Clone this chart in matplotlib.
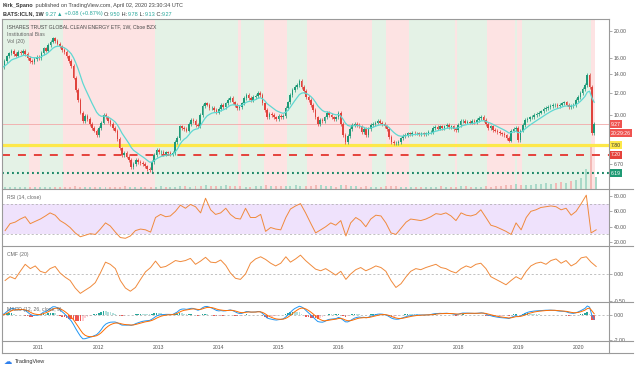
import numpy as np
import pandas as pd
import matplotlib
matplotlib.use("Agg")
import matplotlib.pyplot as plt
import matplotlib.dates as mdates
from matplotlib.lines import Line2D
from matplotlib.ticker import NullLocator

# ---------------- data ----------------
price_start = "2010-05-28"          # bi-weekly samples of the weekly chart
closes = [
    14.8, 15.6, 16.2, 16.6, 17.0, 16.5, 16.3, 16.8, 16.6, 16.9,
    16.5, 16.0, 15.6, 15.5, 15.9, 16.1, 16.0, 16.7, 17.3, 17.0,
    17.8, 18.3, 18.8, 18.4, 18.0, 17.6, 17.1, 16.8, 16.2, 15.6,
    15.0, 13.6, 12.3, 11.3, 10.2, 9.5, 9.9, 9.7, 9.3, 9.0,
    8.8, 8.5, 9.0, 9.4, 10.0, 9.8, 9.5, 9.3, 9.0, 8.8,
    8.2, 7.6, 7.2, 7.3, 7.1, 6.9, 6.5, 6.7, 6.9, 6.8,
    6.75, 6.7, 6.55, 6.4, 6.35, 6.8, 7.2, 7.5, 7.35, 7.4,
    7.25, 7.35, 7.3, 7.25, 7.3, 8.0, 8.3, 9.1, 9.0, 8.9,
    8.8, 9.3, 9.6, 9.5, 9.2, 9.1, 10.0, 10.8, 11.0, 10.9,
    10.6, 10.6, 10.4, 10.2, 10.5, 10.9, 10.7, 11.0, 11.3, 11.5,
    11.1, 10.85, 10.6, 10.7, 11.0, 11.5, 11.8, 11.5, 11.3, 11.6,
    11.7, 12.0, 11.8, 11.0, 10.4, 9.8, 10.1, 10.0, 9.8, 9.7,
    9.9, 9.8, 9.9, 10.6, 11.1, 11.8, 12.3, 12.6, 12.8, 13.2,
    12.6, 12.2, 11.6, 11.3, 10.85, 10.4, 9.8, 9.3, 9.6, 9.5,
    9.8, 10.2, 10.0, 9.8, 9.7, 9.8, 10.2, 9.3, 8.5, 8.0,
    8.4, 8.9, 9.2, 9.3, 9.2, 9.1, 8.7, 8.9, 8.5, 8.9,
    9.2, 9.3, 9.4, 9.5, 9.4, 9.3, 9.1, 8.9, 8.35, 8.0,
    7.95, 7.95, 8.0, 8.25, 8.4, 8.5, 8.6, 8.55, 8.65, 8.6,
    8.6, 8.55, 8.6, 8.55, 8.6, 8.7, 8.7, 9.0, 9.05, 8.95,
    9.1, 9.0, 9.1, 9.2, 9.05, 9.1, 8.9, 8.85, 9.2, 9.5,
    9.55, 9.4, 9.45, 9.4, 9.5, 9.45, 9.6, 9.75, 9.85, 9.6,
    9.3, 9.0, 9.1, 8.85, 8.8, 8.7, 8.6, 8.55, 8.45, 8.3,
    8.1, 8.8, 8.9, 9.0, 8.15, 8.8, 9.2, 9.6, 9.7, 9.8,
    9.85, 10.0, 10.1, 10.2, 10.3, 10.5, 10.6, 10.7, 10.8, 10.85,
    10.9, 10.8, 10.9, 11.0, 11.1, 10.9, 10.7, 10.8, 10.85, 11.3,
    11.6, 12.0, 12.4, 12.8, 13.9, 12.6, 8.6, 9.27,
]

indicator_start = "2010-06-01"       # monthly samples
rsi_values = [
    35, 44, 46, 50, 53, 44, 47,
    50, 54, 58, 55, 48, 44, 39, 32, 27, 29, 31, 30,
    37, 45, 41, 33, 26, 25, 28, 35, 37, 36, 33, 52,
    56, 53, 54, 60, 68, 64, 69, 66, 58, 77, 62, 56,
    58, 64, 56, 51, 50, 64, 52, 52, 56, 34, 39, 37,
    36, 52, 63, 67, 70, 58, 45, 32, 36, 40, 45, 42,
    48, 28, 45, 52, 48, 40, 50, 55, 54, 45, 32, 30,
    38, 46, 50, 49, 48, 50, 53, 57, 56, 58, 54, 48,
    58, 55, 54, 56, 62, 52, 42, 40, 37, 34, 30, 45,
    36, 52, 60, 62, 65, 66, 67, 66, 62, 64, 55, 60,
    70, 81, 32, 36,
]
cmf_values = [
    -0.12, -0.05, -0.09, 0.05, 0.18, 0.10, 0.15,
    0.05, 0.02, 0.10, 0.14, 0.02, -0.06, -0.12, -0.26, -0.36, -0.30, -0.24, -0.16,
    0.02, 0.22, 0.18, 0.10, -0.12, -0.26, -0.32, -0.25, -0.10, 0.04, 0.12, 0.24,
    0.12, 0.14, 0.19, 0.25, 0.23, 0.25, 0.29, 0.18, 0.24, 0.31, 0.22, 0.21,
    0.26, 0.16, 0.02, -0.08, -0.10, 0.00, 0.20, 0.28, 0.32, 0.27, 0.20, 0.15,
    0.20, 0.32, 0.22, 0.28, 0.35, 0.25, 0.17, 0.09, 0.06, 0.10, 0.04, -0.02,
    0.05, -0.10, 0.00, 0.08, 0.12, 0.06, 0.10, 0.15, 0.12, 0.05, -0.12, -0.25,
    -0.18, -0.05, 0.05, 0.10, 0.08, 0.12, 0.15, 0.18, 0.12, 0.10, 0.05, 0.02,
    0.10, 0.15, 0.12, 0.18, 0.20, 0.10, -0.05, -0.10, -0.15, -0.20, -0.12, -0.05,
    -0.10, 0.05, 0.15, 0.20, 0.22, 0.18, 0.25, 0.28, 0.20, 0.25, 0.15, 0.20,
    0.30, 0.32, 0.22, 0.14,
]
volume_m = [
    0.6, 0.5, 0.5, 0.6, 0.5, 0.6, 0.7,
    0.6, 0.6, 0.7, 0.6, 0.5, 0.6, 0.7, 0.9, 0.8, 0.7, 0.6, 0.6,
    0.7, 0.6, 0.6, 0.7, 0.8, 0.9, 0.8, 0.7, 0.7, 0.6, 0.8, 0.7,
    0.9, 0.8, 0.7, 0.8, 1.0, 0.9, 0.8, 0.9, 1.0, 1.2, 1.0, 0.9,
    1.0, 1.3, 1.1, 1.0, 0.9, 0.8, 0.8, 0.9, 1.1, 1.2, 1.0, 0.9,
    1.0, 1.1, 0.9, 1.2, 1.0, 0.9, 1.0, 1.3, 1.4, 1.1, 0.9, 0.8,
    1.2, 1.4, 1.0, 0.9, 0.8, 0.9, 0.8, 0.7, 0.8, 0.9, 1.1, 0.9,
    0.8, 0.7, 0.8, 0.7, 0.7, 0.8, 0.7, 0.8, 0.9, 0.8, 0.7, 0.8,
    0.9, 1.0, 0.8, 0.8, 0.7, 0.9, 0.8, 0.9, 1.0, 1.2, 1.3, 1.6,
    1.4, 1.2, 1.3, 1.5, 1.6, 1.8, 1.7, 1.9, 2.2, 2.0, 2.5, 3.0,
    3.5, 6.5, 14.0, 4.0,
]
year_labels = ["2011", "2012", "2013", "2014", "2015", "2016", "2017", "2018", "2019", "2020"]
price_ticks = [6.70, 10.00, 12.00, 14.00, 16.00, 20.00]
rsi_ticks = [20, 40, 60, 80]
cmf_ticks = [-0.50, 0.00]
macd_ticks = [-2.00, 0.00]
level_support = 7.80
level_dash = 7.20
level_low = 6.19
last_price = 9.27

# ---------------- figure ----------------
W, H = 640, 370
plt.rcParams['font.family'] = ['Liberation Sans', 'DejaVu Sans']
fig = plt.figure(figsize=(W / 100, H / 100), dpi=100)
fig.patch.set_facecolor("white")

def px_axes(x0, y0, x1, y1, **kw):
    return fig.add_axes([x0 / W, 1 - y1 / H, (x1 - x0) / W, (y1 - y0) / H], **kw)

X0, X1 = 2, 609
dates = pd.date_range(price_start, periods=len(closes), freq="14D")
mdates_ = pd.date_range(indicator_start, periods=len(rsi_values), freq="MS") + pd.Timedelta(days=14)
xd = mdates.date2num(dates)
xm = mdates.date2num(mdates_)
xlim = (mdates.date2num(pd.Timestamp("2010-05-27")), mdates.date2num(pd.Timestamp("2020-07-02")))

c = pd.Series(closes, dtype=float)
opens = c.shift(1).fillna(c.iloc[0]).values
cl = c.values
ema_line = c.ewm(span=10, adjust=False).mean().values
fast = c.ewm(span=4.5, adjust=False).mean().values
slow = c.ewm(span=9, adjust=False).mean().values

UP, DN = "#1e9a78", "#e0433d"
TXT = "#555555"
FS_T = 3.7

# background / volume axis
axv = px_axes(X0, 19, X1, 189)
axv.set_xlim(*xlim)
axv.set_ylim(0, 55)
axv.axis("off")
half = 7
for i in range(len(xd)):
    col = "#e4f2e6" if fast[i] >= slow[i] else "#fde3e3"
    axv.axvspan(xd[i] - half, xd[i] + half, color=col, lw=0, zorder=0)
vol_cols = ["#a9d9c8" if (i == 0 or rsi_values[i] >= rsi_values[i - 1]) else "#f3b9b6" for i in range(len(volume_m))]
axv.bar(xm, volume_m, width=12, color=vol_cols, zorder=1)

# main price axis
ax = px_axes(X0, 19, X1, 189)
ax.patch.set_alpha(0)
ax.set_yscale("log")
ax.set_xlim(*xlim)
ax.set_ylim(5.44, 22.04)
ax.axhline(last_price, color="#f3a9a9", lw=0.6, zorder=1)
ax.axhline(level_support, color="#fde84a", lw=2.3, zorder=2)
ax.axhline(level_dash, color="#e5423c", lw=1.4, dashes=(4.1, 4.1), zorder=2)
ax.axhline(level_low, color="#1f8a6a", lw=1.5, dashes=(0.9, 1.5), zorder=2)
colors = [UP if cl[i] >= opens[i] else DN for i in range(len(cl))]
lo = np.minimum(opens, cl) * 0.985
hi = np.maximum(opens, cl) * 1.015
ax.vlines(xd, lo, hi, colors=colors, lw=0.5, zorder=3)
ax.bar(xd, cl - opens, bottom=opens, width=10, color=colors, zorder=4, linewidth=0)
ax.plot(xd, ema_line, color="#5fd8d2", lw=0.9, zorder=5)
ax.yaxis.tick_right()
ax.yaxis.set_minor_locator(NullLocator())
ax.set_yticks(price_ticks)
ax.set_yticklabels(["%.2f" % v for v in price_ticks])
ax.set_xticks([])

# RSI
ar = px_axes(X0, 189, X1, 246)
ar.set_xlim(*xlim)
ar.set_ylim(15, 89)
ar.axhspan(30, 70, color="#efe2fc", lw=0)
ar.axhline(70, color="#a8a8a8", lw=0.5, dashes=(3, 3))
ar.axhline(30, color="#a8a8a8", lw=0.5, dashes=(3, 3))
ar.plot(xm, rsi_values, color="#f08a3c", lw=0.7)
ar.yaxis.tick_right()
ar.set_yticks(rsi_ticks)
ar.set_yticklabels(["%.2f" % v for v in rsi_ticks])
ar.set_xticks([])

# CMF
ac = px_axes(X0, 246, X1, 302)
ac.set_xlim(*xlim)
ac.set_ylim(-0.52, 0.52)
ac.axhline(0, color="#a8a8a8", lw=0.5, dashes=(3, 3))
ac.plot(xm, cmf_values, color="#f08a3c", lw=0.7)
ac.yaxis.tick_right()
ac.set_yticks(cmf_ticks)
ac.set_yticklabels(["%.2f" % v for v in cmf_ticks])
ac.set_xticks([])

# MACD
am = px_axes(X0, 302, X1, 341)
am.set_xlim(*xlim)
am.set_ylim(-2.08, 1.04)
e1 = c.ewm(span=6, adjust=False).mean()
e2 = c.ewm(span=13, adjust=False).mean()
macd = (e1 - e2)
sig = macd.ewm(span=4.5, adjust=False).mean()
hist = (macd - sig).values
hcol = []
for i, h in enumerate(hist):
    prev = hist[i - 1] if i else h
    if h >= 0:
        hcol.append("#26a69a" if h >= prev else "#b2dfdb")
    else:
        hcol.append("#ef5350" if h <= prev else "#ffcdd2")
am.axhline(0, color="#a8a8a8", lw=0.5, dashes=(3, 3))
am.bar(xd, hist, width=10, color=hcol, linewidth=0)
am.plot(xd, macd.values, color="#2196f3", lw=0.7)
am.plot(xd, sig.values, color="#ff6d00", lw=0.7)
am.yaxis.tick_right()
am.set_yticks(macd_ticks)
am.set_yticklabels(["%.2f" % v for v in macd_ticks])
year_pos = [mdates.date2num(pd.Timestamp(y + "-01-01")) for y in year_labels]
am.set_xticks(year_pos)
am.set_xticklabels(year_labels)
am.tick_params(axis="x", length=0, pad=3.2, labelsize=FS_T, labelcolor=TXT)

for a in (ax, ar, ac, am):
    for s in a.spines.values():
        s.set_visible(False)
    a.tick_params(axis="y", which="both", length=2, width=0.5, color="#8a8a8a",
                  labelsize=FS_T, labelcolor=TXT, pad=1.5)

# frame lines
def hline(y, x0, x1, color="#9a9a9a", lw=0.8):
    fig.add_artist(Line2D([x0 / W, x1 / W], [1 - y / H, 1 - y / H], color=color, lw=lw))

def vline(x, y0, y1, color="#9a9a9a", lw=0.8):
    fig.add_artist(Line2D([x / W, x / W], [1 - y0 / H, 1 - y1 / H], color=color, lw=lw))

hline(19, X0, X1)
for yy in (189, 246, 302, 341):
    hline(yy, X0, 633)
hline(353, X0, 633)
vline(X0, 19, 353)
vline(X1, 19, 353)

# right-side price labels
def tag(value_y_px, text, bg, fg="white"):
    fig.text(611 / W, 1 - value_y_px / H, text, fontsize=FS_T, color=fg, va="center", ha="left",
             bbox=dict(boxstyle="square,pad=0.28", fc=bg, ec="none"))

def ypx(axis, v):
    return H - axis.transData.transform((xlim[0], v))[1]

tag(ypx(ax, last_price), "%.2f" % last_price, "#ef5350")
tag(ypx(ax, last_price) + 9, "20:29:26", "#ef5350")
tag(ypx(ax, level_support), "%.2f" % level_support, "#fde84a", "#333333")
tag(ypx(ax, level_dash), "%.2f" % level_dash, "#e5423c")
tag(ypx(ax, level_low), "%.2f" % level_low, "#1f9a74")

# text
renderer = fig.canvas.get_renderer()

def rich(x_px, y_px, parts, size):
    x = x_px
    for s, colr, wt in parts:
        t = fig.text(x / W, 1 - y_px / H, s, color=colr, fontsize=size, fontweight=wt, va="center", ha="left")
        x += t.get_window_extent(renderer=renderer).width

G = "#26a69a"
D = "#333333"
rich(3, 6, [("Kirk_Spano", D, "bold"), (" published on TradingView.com, April 02, 2020 23:30:34 UTC", "#444444", "normal")], 4.0)
rich(3, 14, [("BATS:ICLN, 1W", D, "bold"), (" 9.27 ", G, "normal"), ("\u25b2", G, "normal"),
             (" +0.08 (+0.87%) ", G, "normal"), ("O:", D, "normal"), ("9.50", G, "normal"),
             (" H:", D, "normal"), ("9.78", G, "normal"), (" L:", D, "normal"), ("9.13", G, "normal"),
             (" C:", D, "normal"), ("9.27", G, "normal")], 4.0)

def label(x_px, y_px, s, colr="#4a4a4a", size=3.7):
    fig.text(x_px / W, 1 - y_px / H, s, fontsize=size, color=colr, va="center", ha="left")

label(7, 26.5, "ISHARES TRUST GLOBAL CLEAN ENERGY ETF, 1W, Cboe BZX")
label(7, 34, "Institutional Bias", "#666666")
label(7, 41.5, "Vol (20)", "#666666")
label(7, 197, "RSI (14, close)", "#666666")
label(7, 254.5, "CMF (20)", "#666666")
label(7, 309.5, "MACD (12, 26, close, 9)", "#666666")
fig.text(4 / W, 1 - 362 / H, "\u2601", fontsize=6, color="#2f80ed", va="center", ha="left", family="DejaVu Sans")
label(15, 362, "TradingView", "#333333", 4.0)

fig.savefig("out.png", dpi=100, facecolor="white")
